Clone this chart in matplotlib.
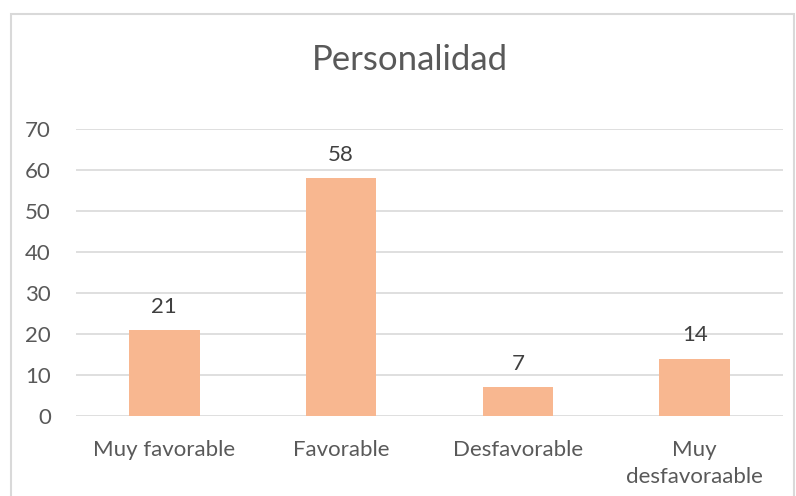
import matplotlib.pyplot as plt
from matplotlib.patches import Rectangle

categorias = ["Muy favorable", "Favorable", "Desfavorable", "Muy\ndesfavoraable"]
valores = [21, 58, 7, 14]
yticks = [0, 10, 20, 30, 40, 50, 60, 70]

plt.rcParams['font.family'] = ['Lato', 'DejaVu Sans']

W, H = 796, 496
fig = plt.figure(figsize=(W / 100, H / 100), dpi=100)
ax = fig.add_axes([76 / W, 1 - 416 / H, 707 / W, 287 / H])

# marco gris del area del grafico
fig.patches.append(Rectangle((11 / W, -0.1), 783 / W, 1.1 - 14 / H,
                             transform=fig.transFigure, fill=False,
                             edgecolor="#D9D9D9", linewidth=1.5))

x = range(len(categorias))
ax.bar(x, valores, width=0.4, color="#F8B790", zorder=3)
for xi, v in zip(x, valores):
    ax.text(xi, v + 3.2, str(v), ha="center", va="bottom",
            fontsize=16, color="#404040")

ax.set_xlim(-0.5, len(categorias) - 0.5)
ax.set_ylim(0, 70)
ax.set_yticks(yticks)
ax.set_xticks(list(x))
ax.set_xticklabels(categorias, linespacing=1.45)
ax.tick_params(axis="both", length=0, labelsize=16, labelcolor="#595959")
ax.tick_params(axis="y", pad=18)
ax.tick_params(axis="x", pad=17)
ax.grid(axis="y", color="#D9D9D9", linewidth=1.2, zorder=0)
for s in ax.spines.values():
    s.set_visible(False)

fig.text(410 / W, 1 - 60 / H, "Personalidad", ha="center", va="center",
         fontsize=25, color="#595959")

fig.savefig("out.png", dpi=100)
